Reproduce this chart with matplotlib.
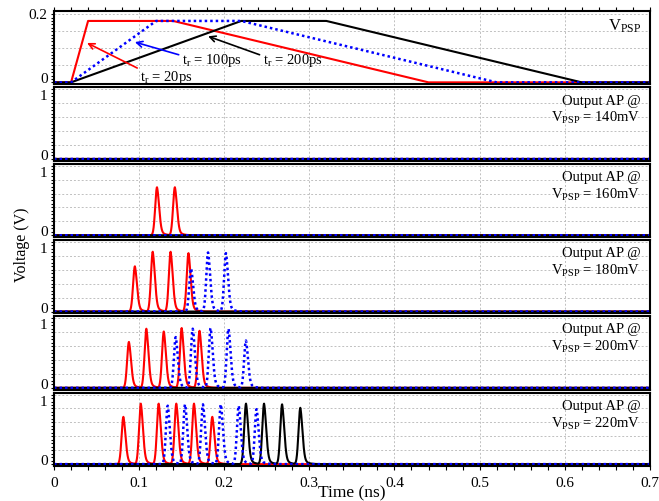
import numpy as np
import matplotlib
matplotlib.use("Agg")
import matplotlib.pyplot as plt
from matplotlib.ticker import MultipleLocator

plt.rcParams['font.family'] = ['Liberation Serif', 'DejaVu Serif']
plt.rcParams['mathtext.fontset'] = 'custom'
plt.rcParams['mathtext.rm'] = 'Liberation Serif'
plt.rcParams['mathtext.it'] = 'Liberation Serif:italic'

# input ramps (ns, V)
vpsp_red_t = [0.0, 0.02, 0.04, 0.14, 0.44, 0.7]
vpsp_blue_t = [0.0, 0.02, 0.12, 0.22, 0.52, 0.7]
vpsp_black_t = [0.0, 0.02, 0.22, 0.32, 0.62, 0.7]
vpsp_v = [0.0, 0.0, 0.18, 0.18, 0.0, 0.0]

# spike peak times (ns) and amplitudes (V) per VPSP level
panel_labels = ['140mV', '160mV', '180mV', '200mV', '220mV']

red_t = [[], [0.121, 0.142], [0.095, 0.116, 0.137, 0.158],
         [0.088, 0.1085, 0.129, 0.150, 0.171],
         [0.0815, 0.102, 0.123, 0.1437, 0.1645, 0.186]]
red_a = [[], [0.69, 0.69], [0.65, 0.86, 0.86, 0.84],
         [0.66, 0.85, 0.81, 0.86, 0.82],
         [0.68, 0.87, 0.87, 0.87, 0.87, 0.68]]

blue_t = [[], [], [0.161, 0.181, 0.202],
          [0.143, 0.163, 0.184, 0.205, 0.2255],
          [0.1336, 0.154, 0.175, 0.196, 0.217, 0.238]]
blue_a = [[], [], [0.62, 0.85, 0.84],
          [0.73, 0.85, 0.86, 0.85, 0.68],
          [0.84, 0.86, 0.86, 0.86, 0.84, 0.79]]

black_t = [[], [], [], [], [0.2256, 0.2468, 0.268, 0.2894]]
black_a = [[], [], [], [], [0.87, 0.87, 0.86, 0.81]]

t = np.linspace(0, 0.7, 7001)


def spike_train(times, amps):
    v = np.zeros_like(t)
    for tp, a in zip(times, amps):
        dt = t - tp
        left = a * np.exp(-0.5 * (dt / 0.0021) ** 2)
        right = a * (0.75 * np.exp(-0.5 * (dt / 0.0025) ** 2) + 0.25 * np.exp(-np.clip(dt, 0, None) / 0.004))
        s = np.where(dt < 0, left, right)
        v = np.maximum(v, s)
    return v


def style_axis(ax):
    for sp in ax.spines.values():
        sp.set_linewidth(1.5)
    ax.set_xlim(0, 0.7)
    ax.xaxis.set_major_locator(MultipleLocator(0.1))
    ax.xaxis.grid(True, color='#c0c0c0', linestyle=(0, (2, 2)), linewidth=0.7)
    ax.tick_params(axis='y', which='both', direction='out', length=2.5, width=0.8, pad=2, labelsize=11)
    ax.tick_params(axis='y', which='minor', length=2)
    ax.tick_params(axis='x', which='both', bottom=False, top=False, labelbottom=False)


def fix_labels(ax, top_align):
    labels = ax.get_yticklabels()
    labels[0].set_verticalalignment('baseline')
    labels[-1].set_verticalalignment(top_align)


fig = plt.figure(figsize=(6.59, 5.02), dpi=100)
gs = fig.add_gridspec(6, 1, left=0.082, right=0.986, top=0.976, bottom=0.070, hspace=0.04)
axes = [fig.add_subplot(gs[i]) for i in range(6)]

# top panel: VPSP ramps
ax = axes[0]
style_axis(ax)
ax.plot(vpsp_red_t, vpsp_v, color='red', lw=1.5)
ax.plot(vpsp_black_t, vpsp_v, color='black', lw=1.5)
ax.plot(vpsp_blue_t, vpsp_v, color='blue', lw=1.8, linestyle=(0, (1, 1.2)))
ax.set_ylim(-0.006, 0.209)
ax.set_yticks([0, 0.2])
ax.set_yticklabels(['0', '0.2'])
ax.yaxis.set_minor_locator(MultipleLocator(0.01))
fix_labels(ax, 'center')
for yv in [0.05, 0.1, 0.15, 0.2]:
    ax.axhline(yv, color='#c0c0c0', linestyle=(0, (2, 2)), linewidth=0.7, zorder=0)
ax.xaxis.set_minor_locator(MultipleLocator(0.02))
ax.tick_params(axis='x', which='both', top=True, direction='out', length=3, width=0.8)
ax.text(0.985, 0.80, r'$\mathregular{V_{PSP}}$', transform=ax.transAxes, ha='right', va='center', fontsize=12)

ax.annotate(r'$\mathregular{t_r}$ = 20ps', xy=(0.0388, 0.1155), xytext=(0.101, 0.018),
            fontsize=10.5, va='center', ha='left',
            arrowprops=dict(arrowstyle='->', color='red', lw=1.2, shrinkA=0, shrinkB=0,
                            relpos=(0.0, 0.9)))
ax.annotate(r'$\mathregular{t_r}$ = 100ps', xy=(0.095, 0.118), xytext=(0.150, 0.066),
            fontsize=10.5, va='center', ha='left',
            arrowprops=dict(arrowstyle='->', color='blue', lw=1.2, shrinkA=0, shrinkB=0,
                            relpos=(-0.05, 0.8)))
ax.annotate(r'$\mathregular{t_r}$ = 200ps', xy=(0.181, 0.135), xytext=(0.245, 0.066),
            fontsize=10.5, va='center', ha='left',
            arrowprops=dict(arrowstyle='->', color='black', lw=1.2, shrinkA=0, shrinkB=0,
                            relpos=(-0.05, 0.8)))

# spike panels
for i in range(5):
    ax = axes[i + 1]
    style_axis(ax)
    ax.plot(t, spike_train(red_t[i], red_a[i]), color='red', lw=1.5)
    ax.plot(t, spike_train(black_t[i], black_a[i]), color='black', lw=1.5)
    ax.plot(t, spike_train(blue_t[i], blue_a[i]), color='blue', lw=1.8, linestyle=(0, (1, 1.2)))
    ax.set_ylim(-0.025, 1.03)
    ax.set_yticks([0, 1])
    ax.set_yticklabels(['0', '1'])
    ax.yaxis.set_minor_locator(MultipleLocator(0.05))
    fix_labels(ax, 'top')
    for yv in [0.2, 0.4, 0.6, 0.8, 1.0]:
        ax.axhline(yv, color='#c0c0c0', linestyle=(0, (2, 2)), linewidth=0.7, zorder=0)
    ax.text(0.985, 0.826, 'Output AP @', transform=ax.transAxes, ha='right', va='center', fontsize=10.5)
    ax.text(0.985, 0.59, r'$\mathregular{V_{PSP}}$ = ' + panel_labels[i], transform=ax.transAxes,
            ha='right', va='center', fontsize=10.5)

ax = axes[-1]
ax.xaxis.set_minor_locator(MultipleLocator(0.02))
ax.tick_params(axis='x', which='both', bottom=True, labelbottom=True, direction='out',
               length=3, width=0.8, pad=4, labelsize=11)
ax.set_xticks(np.arange(0, 0.71, 0.1))
ax.set_xticklabels(['0', '0.1', '0.2', '0.3', '0.4', '0.5', '0.6', '0.7'])

fig.text(352 / 659, 1 - 493 / 502, 'Time (ns)', ha='center', va='center', fontsize=12.5)
fig.text(22 / 659, 1 - 245 / 502, 'Voltage (V)', ha='center', va='center', rotation=90, fontsize=11.5)

fig.savefig('out.png', dpi=100)
